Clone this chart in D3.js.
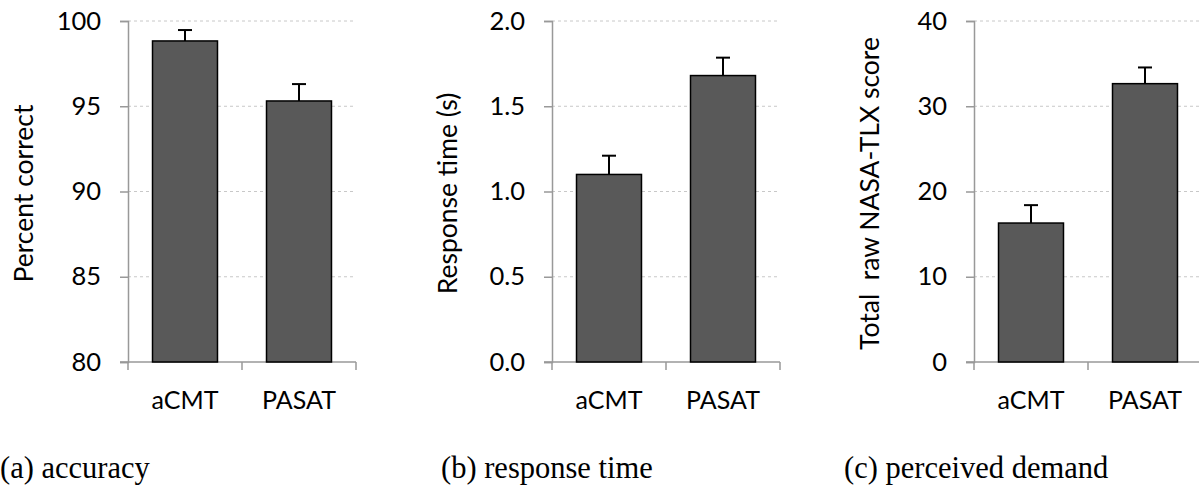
<!DOCTYPE html>
<html>
<head>
<meta charset="utf-8">
<script src="https://cdn.jsdelivr.net/npm/d3@7"></script>
<style>
  body { margin: 0; background: #fff; }
  svg { display: block; }
</style>
</head>
<body>
<div id="chart"></div>
<script>
var categories = ["aCMT", "PASAT"];

var accuracy_mean = [98.83, 95.31];
var accuracy_err = [0.64, 0.99];
var accuracy_ticks = [80, 85, 90, 95, 100];

var rt_mean = [1.10, 1.68];
var rt_err = [0.11, 0.105];
var rt_ticks = [0.0, 0.5, 1.0, 1.5, 2.0];

var tlx_mean = [16.3, 32.65];
var tlx_err = [2.1, 1.9];
var tlx_ticks = [0, 10, 20, 30, 40];

var panels = [
    {mean: accuracy_mean, err: accuracy_err, ticks: accuracy_ticks, fmt: d3.format("d"),
     ylabel: "Percent correct", caption: "(a) accuracy", x0: 128, capx: 0},
    {mean: rt_mean, err: rt_err, ticks: rt_ticks, fmt: d3.format(".1f"),
     ylabel: "Response time (s)", caption: "(b) response time", x0: 552, capx: 441},
    {mean: tlx_mean, err: tlx_err, ticks: tlx_ticks, fmt: d3.format("d"),
     ylabel: "Total  raw NASA-TLX score", caption: "(c) perceived demand", x0: 974, capx: 844},
];

var width = 1199, height = 489;
var top_y = 21, bottom_y = 362, plot_w = 228;
var sans = 'Lato, sans-serif';

var svg = d3.select('#chart')
    .append('svg')
    .attr('width', width)
    .attr('height', height);

panels.forEach(function(p){
    var g = svg.append('g');

    var y = d3.scaleLinear()
        .domain([p.ticks[0], p.ticks[p.ticks.length - 1]])
        .range([bottom_y, top_y]);

    var x = d3.scaleBand()
        .domain(categories)
        .range([p.x0, p.x0 + plot_w])
        .paddingInner(0.43)
        .paddingOuter(0.215);

    // dashed gridlines
    g.selectAll('line.grid')
        .data(p.ticks.slice(1))
        .enter()
        .append('line')
        .attr('class', 'grid')
        .attr('x1', p.x0)
        .attr('x2', p.x0 + plot_w)
        .attr('y1', d => y(d))
        .attr('y2', d => y(d))
        .style('stroke', '#c8c8c8')
        .style('stroke-width', 1)
        .style('stroke-dasharray', '3,3');

    // y axis
    var yAxis = g.append('g')
        .attr('transform', 'translate(' + p.x0 + ',0)')
        .call(d3.axisLeft(y).tickValues(p.ticks).tickFormat(p.fmt).tickSize(8).tickPadding(19));
    yAxis.select('.domain').style('stroke', '#999').style('stroke-width', 1.5);
    yAxis.selectAll('.tick line').style('stroke', '#999').style('stroke-width', 1.5);
    yAxis.selectAll('.tick text')
        .style('font-family', sans)
        .style('font-size', '25.5px')
        .style('fill', '#000');

    // x axis with ticks on category boundaries
    var xAxis = g.append('g')
        .attr('transform', 'translate(0,' + bottom_y + ')');
    xAxis.append('line')
        .attr('x1', p.x0 - 8).attr('x2', p.x0 + plot_w)
        .style('stroke', '#999').style('stroke-width', 1.5);
    var mid = (x(categories[0]) + x(categories[1]) + x.bandwidth()) / 2;
    xAxis.selectAll('line.xt')
        .data([p.x0, mid, p.x0 + plot_w])
        .enter()
        .append('line')
        .attr('class', 'xt')
        .attr('x1', d => d).attr('x2', d => d)
        .attr('y1', 0).attr('y2', 8)
        .style('stroke', '#999').style('stroke-width', 1.5);
    xAxis.selectAll('text')
        .data(categories)
        .enter()
        .append('text')
        .attr('x', d => x(d) + x.bandwidth() / 2)
        .attr('y', 47)
        .attr('text-anchor', 'middle')
        .style('font-family', sans)
        .style('font-size', '25px')
        .text(d => d);

    // error bars (upper only)
    var cap = 7;
    categories.forEach(function(c, i){
        var cx = x(c) + x.bandwidth() / 2;
        g.append('line')
            .attr('x1', cx).attr('x2', cx)
            .attr('y1', y(p.mean[i])).attr('y2', y(p.mean[i] + p.err[i]))
            .style('stroke', '#000').style('stroke-width', 2);
        g.append('line')
            .attr('x1', cx - cap).attr('x2', cx + cap)
            .attr('y1', y(p.mean[i] + p.err[i])).attr('y2', y(p.mean[i] + p.err[i]))
            .style('stroke', '#000').style('stroke-width', 2);
    });

    // bars
    g.selectAll('rect')
        .data(p.mean)
        .enter()
        .append('rect')
        .attr('x', (d, i) => x(categories[i]))
        .attr('y', d => y(d))
        .attr('width', x.bandwidth())
        .attr('height', d => bottom_y - y(d))
        .style('fill', '#595959')
        .style('stroke', '#000')
        .style('stroke-width', 1.5);

    // y label
    g.append('text')
        .attr('transform', 'translate(' + (p.x0 - 95) + ',' + ((top_y + bottom_y) / 2 + 2) + ') rotate(-90)')
        .attr('text-anchor', 'middle')
        .style('font-family', sans)
        .style('font-size', '26.5px')
        .style('white-space', 'pre')
        .text(p.ylabel);

    // caption
    svg.append('text')
        .attr('x', p.capx)
        .attr('y', 478)
        .style('font-family', '"Liberation Serif", "Times New Roman", serif')
        .style('font-size', '30.5px')
        .text(p.caption);
});
</script>
</body>
</html>
